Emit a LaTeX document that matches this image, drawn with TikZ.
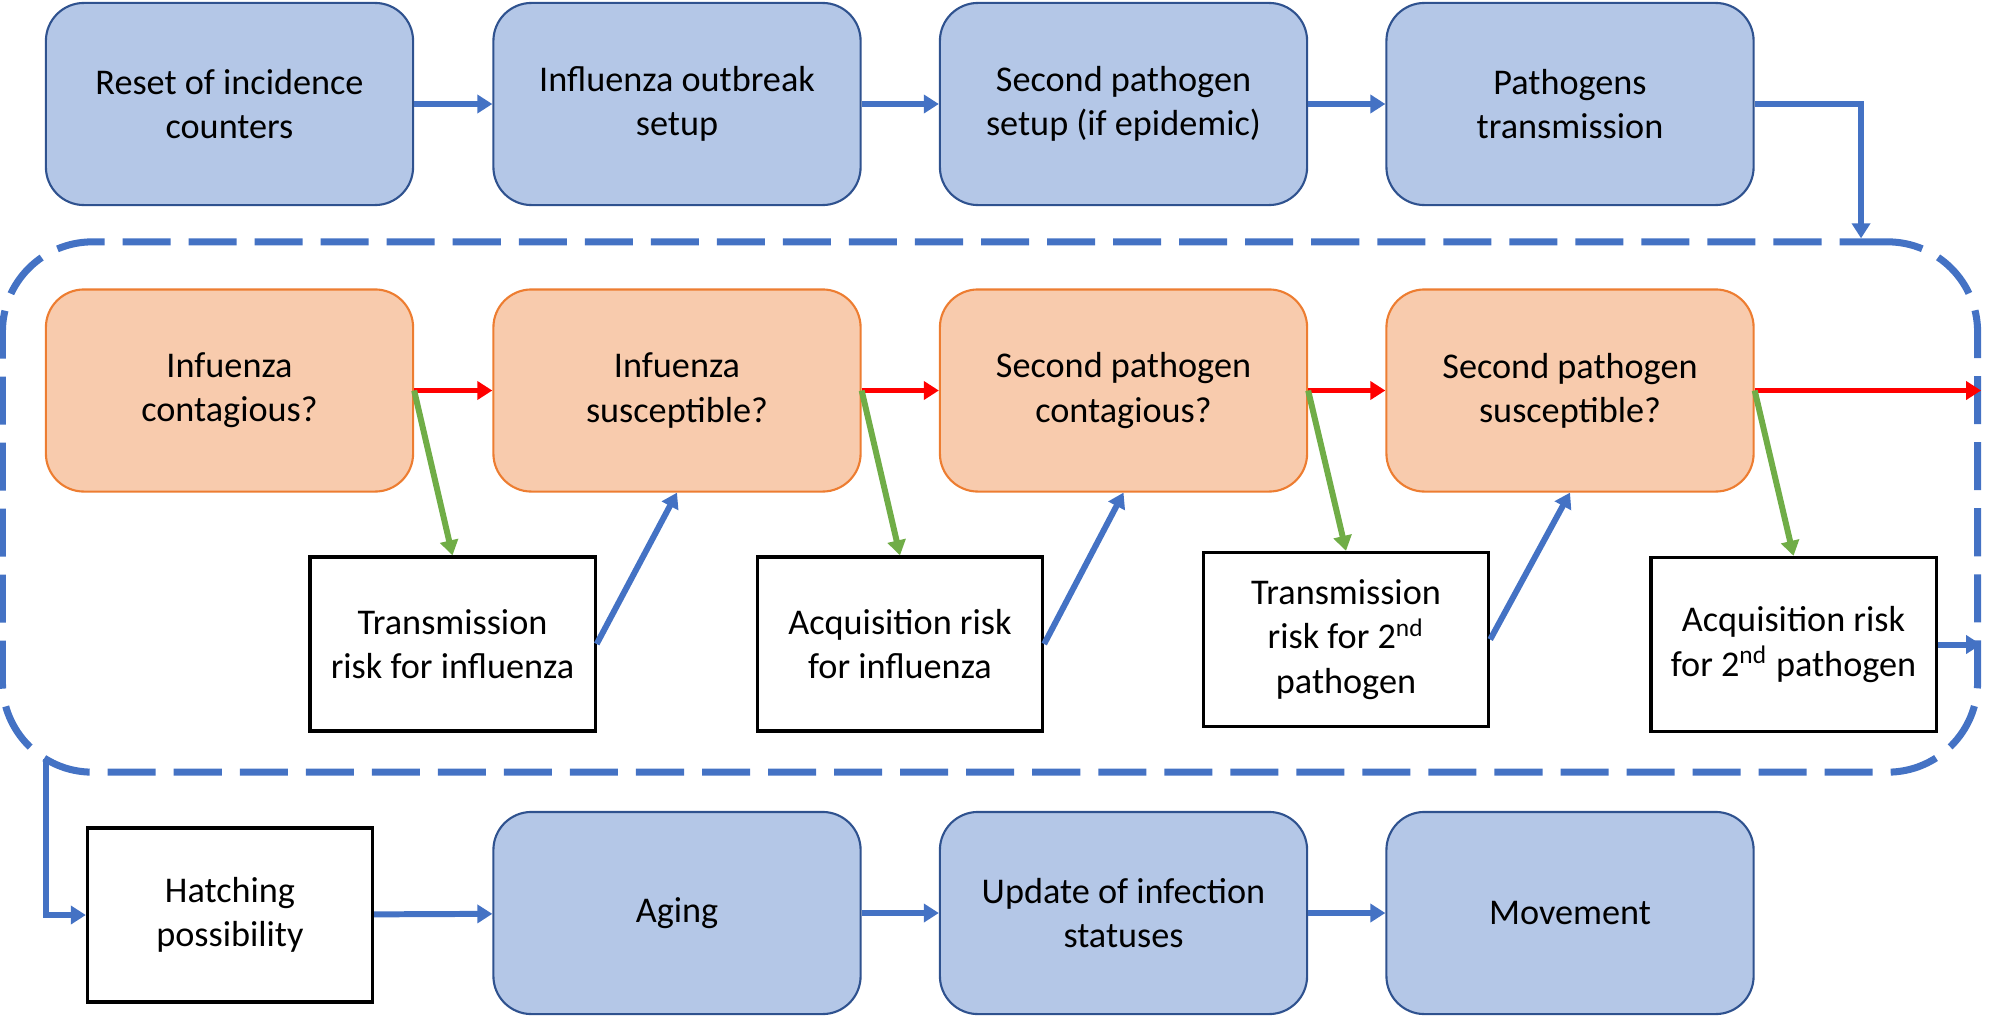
\documentclass[tikz,border=0pt]{standalone}
\usepackage{fontspec}
\setmainfont{Carlito}
\usetikzlibrary{arrows.meta}

\definecolor{procfill}{HTML}{B4C7E7}
\definecolor{procline}{HTML}{2F528F}
\definecolor{testfill}{HTML}{F8CBAD}
\definecolor{testline}{HTML}{ED7D31}
\definecolor{flowblue}{HTML}{4472C4}
\definecolor{flowred}{HTML}{FF0000}
\definecolor{flowgreen}{HTML}{70AD47}

\tikzset{
	procbox/.style={rectangle, rounded corners=0.38cm, draw=procline, fill=procfill, line width=0.6pt,
		minimum width=3.67cm, minimum height=2.02cm, align=center, font=\fontsize{10.3pt}{12.6pt}\selectfont},
	testbox/.style={procbox, draw=testline, fill=testfill},
	riskbox/.style={rectangle, draw=black, line width=0.9pt, fill=white,
		minimum width=2.85cm, minimum height=1.74cm, align=center, font=\fontsize{10.3pt}{12.6pt}\selectfont},
	loopframe/.style={rectangle, rounded corners=0.9cm, draw=flowblue, line width=2pt,
		dash pattern=on 0.48cm off 0.18cm, minimum width=19.74cm, minimum height=5.30cm},
	blueflow/.style={-{Triangle[length=0.15cm,width=0.18cm]}, line width=1.7pt, draw=flowblue},
	redflow/.style={blueflow, draw=flowred},
	greenflow/.style={blueflow, draw=flowgreen}
}

\begin{document}
\begin{tikzpicture}[x=0.01cm, y=-0.01cm]
					\useasboundingbox (0,0) rectangle (1995,1018);

					%Nodes
					\node[loopframe] (loop) at (990,507) {};

					\node[procbox] (reset)  at (229.5,104) {Reset of incidence\\counters};
					\node[procbox] (flu)    at (677,104)   {Influenza outbreak\\setup};
					\node[procbox] (second) at (1123.5,104) {Second pathogen\\setup (if epidemic)};
					\node[procbox] (trans)  at (1570,104)  {Pathogens\\transmission};

					\node[testbox] (fluc)   at (229.5,390.5) {Infuenza\\contagious?};
					\node[testbox] (flus)   at (677,390.5)   {Infuenza\\susceptible?};
					\node[testbox] (secc)   at (1123.5,390.5) {Second pathogen\\contagious?};
					\node[testbox] (secs)   at (1570,390.5)  {Second pathogen\\susceptible?};

					\node[riskbox] (flutr)  at (452.5,644)  {Transmission\\risk for influenza};
					\node[riskbox] (fluacq) at (900,644)    {Acquisition risk\\for influenza};
					\node[riskbox] (sectr)  at (1346,639.5) {Transmission\\risk for 2\textsuperscript{nd}\\pathogen};
					\node[riskbox] (secacq) at (1793.5,644.5) {Acquisition risk\\for 2\textsuperscript{nd} pathogen};

					\node[riskbox] (hatch)  at (230,915)    {Hatching\\possibility};
					\node[procbox] (aging)  at (677,913)    {Aging};
					\node[procbox] (update) at (1123.5,913) {Update of infection\\statuses};
					\node[procbox] (move)   at (1570,913)   {Movement};

					\coordinate      (exit)  at  (46,759);

					%Lines
					\draw[blueflow] (reset) -- (flu);
					\draw[blueflow] (flu) -- (second);
					\draw[blueflow] (second) -- (trans);
					\draw[blueflow] (trans.east) -| ([xshift=-1.2cm]loop.north east);

					\draw[redflow] (fluc) -- (flus);
					\draw[redflow] (flus) -- (secc);
					\draw[redflow] (secc) -- (secs);
					\draw[redflow] (secs.east) -- (secs.east -| loop.east);

					\draw[greenflow] (fluc.east) -- (flutr.north);
					\draw[greenflow] (flus.east) -- (fluacq.north);
					\draw[greenflow] (secc.east) -- (sectr.north);
					\draw[greenflow] (secs.east) -- (secacq.north);

					\draw[blueflow] (flutr.east) -- (flus.south);
					\draw[blueflow] (fluacq.east) -- (secc.south);
					\draw[blueflow] (sectr.east) -- (secs.south);
					\draw[blueflow] (secacq.east) -- (secacq.east -| loop.east);

					\draw[blueflow] (exit) |- (hatch.west);
					\draw[blueflow] (hatch) -- (aging);
					\draw[blueflow] (aging) -- (update);
					\draw[blueflow] (update) -- (move);

				\end{tikzpicture}
\end{document}
